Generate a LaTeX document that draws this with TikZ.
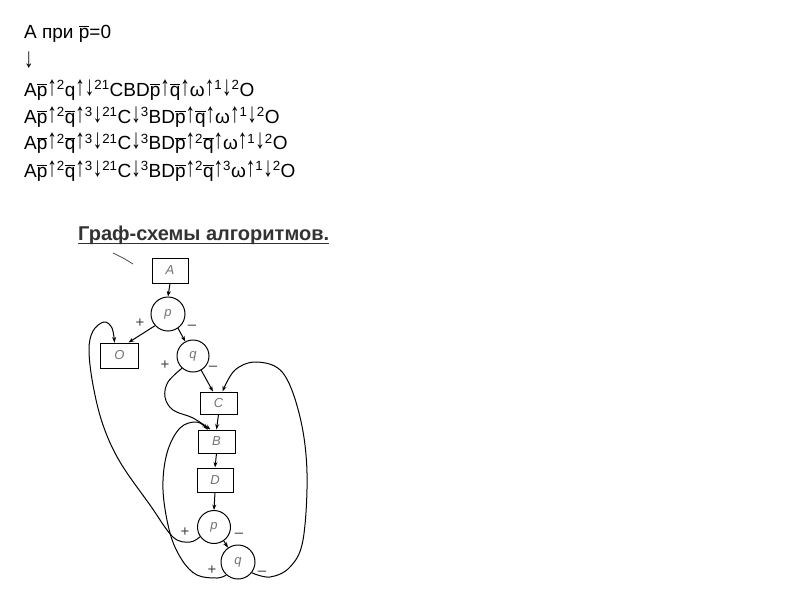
\documentclass[tikz,border=0pt]{standalone}
\usepackage{fontspec}
\usepackage{graphicx}
\setmainfont{Liberation Sans}
\usetikzlibrary{arrows.meta}
\newcommand\ovl[1]{$\overline{\mbox{#1}}$}
\newcommand\sx[1]{\textsuperscript{#1}}
\newcommand\vst[1]{\resizebox*{\width}{16.5pt}{\raisebox{\depth}{#1}}}
\newcommand\ua{\vst{↑}}
\newcommand\da{\vst{↓}}
\begin{document}
\begin{tikzpicture}[x=1pt,y=-1pt,
  txt/.style={anchor=base west, inner sep=0pt, font=\fontsize{19}{22}\selectfont},
  ttl/.style={anchor=base west, inner sep=0pt, font=\bfseries\fontsize{20}{24}\selectfont, text=black!80},
  blk/.style={draw, line width=1pt, rectangle, inner sep=0pt, font=\itshape\fontsize{13}{13}\selectfont, text=black!55},
  dec/.style={draw, line width=1pt, circle, inner sep=0pt, font=\itshape\fontsize{13}{13}\selectfont, text=black!55},
  lbl/.style={inner sep=0pt, font=\fontsize{15}{15}\selectfont, text=black!75},
  arr/.style={line width=1pt, -{Stealth[length=5.5pt,width=4pt]}},
]
\useasboundingbox[fill=white] (0,0) rectangle (800,600);

% formula text
\node[txt] (l1) at (24,38) {A при \ovl{p}=0};
\node[txt] (l2) at (24,68) {\da};
\node[txt] (l3) at (24,96) {A\ovl{p}\ua\sx{2}q\ua\da\sx{21}CBD\ovl{p}\ua\ovl{q}\ua ω\ua\sx{1}\da\sx{2}O};
\node[txt] (l4) at (24,123) {A\ovl{p}\ua\sx{2}\ovl{q}\ua\sx{3}\da\sx{21}C\da\sx{3}BD\ovl{p}\ua\ovl{q}\ua ω\ua\sx{1}\da\sx{2}O};
\node[txt] (l5) at (24,149.5) {A\ovl{p}\ua\sx{2}\ovl{q}\ua\sx{3}\da\sx{21}C\da\sx{3}BD\ovl{p}\ua\sx{2}\ovl{q}\ua ω\ua\sx{1}\da\sx{2}O};
\node[txt] (l6) at (24,177) {A\ovl{p}\ua\sx{2}\ovl{q}\ua\sx{3}\da\sx{21}C\da\sx{3}BD\ovl{p}\ua\sx{2}\ovl{q}\ua\sx{3}ω\ua\sx{1}\da\sx{2}O};

% title
\node[ttl] (title) at (78,240.5) {Граф-схемы алгоритмов.};
\draw[line width=1.2pt, black!80] ([yshift=-3pt]title.base west) -- ([yshift=-3pt]title.base east);

% graph nodes
\node[blk, minimum width=36pt, minimum height=25pt] (A) at (170,270.5) {A};
\node[dec, minimum size=34pt] (p1) at (168,314) {p};
\node[blk, minimum width=38pt, minimum height=25pt] (O) at (119.5,355.5) {O};
\node[dec, minimum size=32pt] (q1) at (193,356) {q};
\node[blk, minimum width=37pt, minimum height=22pt] (C) at (218.5,403) {C};
\node[blk, minimum width=37pt, minimum height=23pt] (B) at (216.5,441.5) {B};
\node[blk, minimum width=36pt, minimum height=24pt] (D) at (215,480) {D};
\node[dec, minimum size=33pt] (p2) at (214,527) {p};
\node[dec, minimum size=34pt] (q2) at (238,562) {q};

% straight connectors
\draw[arr] (A.south) -- (p1.north);
\draw[arr] (p1.222) -- ([xshift=9pt]O.north);
\draw[arr] (p1.305) -- (q1.118);
\draw[arr] (q1.300) -- ([xshift=-5.5pt]C.north);
\draw[arr] (C.south) -- (B.north);
\draw[arr] (B.south) -- (D.north);
\draw[arr] (D.south) -- (p2.north);
\draw[arr] (p2.305) -- (q2.125);

% curved connectors
\draw[arr] plot[smooth, tension=0.6] coordinates {(p2.215) (190,542) (173,537) (150,505) (120,462) (103,425) (93,385) (89,350) (93,331) (104,322) (112,328) ([xshift=-5pt]O.north)};
\draw[arr] plot[smooth, tension=0.6] coordinates {(q1.228) (168,382) (165,397) (173,410) (193,418) ([xshift=-6pt]B.north)};
\draw[arr] plot[smooth, tension=0.6] coordinates {(q2.228) (217,578) (197,575) (182,560) (170,533) (163,490) (167,453) (180,428) (197,422) ([xshift=-9pt]B.north)};
\draw[arr] plot[smooth, tension=0.6] coordinates {(q2.322) (270,577) (290,567) (303,540) (307,473) (300,417) (283,373) (257,362) (235,370) ([xshift=4pt]C.north)};

% stray stroke
\draw[line width=0.8pt, black!70] plot[smooth] coordinates {(113,253) (123,258) (133,264)};

% branch labels
\node[lbl] (pp1) at (140,323) {+};
\node[lbl] (pm1) at (192,327) {--};
\node[lbl] (qp1) at (165,365) {+};
\node[lbl] (qm1) at (213,368) {--};
\node[lbl] (pp2) at (185,532) {+};
\node[lbl] (pm2) at (239,535) {--};
\node[lbl] (qp2) at (212,570) {+};
\node[lbl] (qm2) at (262,573) {--};
\end{tikzpicture}
\end{document}
